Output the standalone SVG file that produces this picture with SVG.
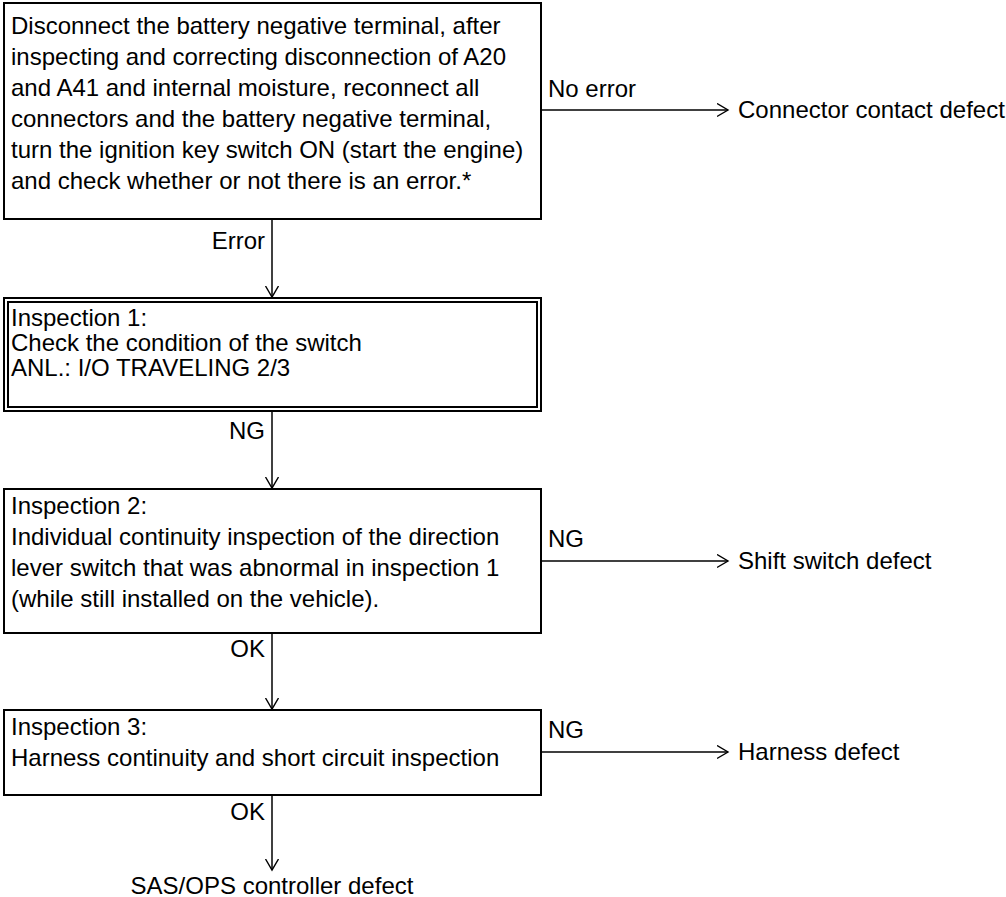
<svg xmlns="http://www.w3.org/2000/svg" width="1006" height="897" viewBox="0 0 1006 897">
  <style>
    .box { fill: #ffffff; stroke: #000000; stroke-width: 2; }
    .wire { fill: none; stroke: #000000; stroke-width: 1.5; }
    text { font-family: "Liberation Sans", Arial, sans-serif; font-size: 24px; fill: #000000; }
    .end { text-anchor: end; }
    .mid { text-anchor: middle; }
  </style>
  <defs>
    <marker id="open-arrow" markerUnits="userSpaceOnUse" markerWidth="14" markerHeight="16" refX="11" refY="7" orient="auto">
      <path d="M0,0.5 L11,7 L0,13.5" fill="none" stroke="#000000" stroke-width="1.4"/>
    </marker>
  </defs>

  <rect width="1006" height="897" fill="#ffffff"/>

  <!-- connectors -->
  <g id="connectors">
    <line class="wire" x1="272" y1="219" x2="272" y2="297" marker-end="url(#open-arrow)"/>
    <text class="end" x="265" y="249">Error</text>

    <line class="wire" x1="541" y1="110" x2="728" y2="110" marker-end="url(#open-arrow)"/>
    <text x="548" y="97">No error</text>

    <line class="wire" x1="272" y1="411" x2="272" y2="488" marker-end="url(#open-arrow)"/>
    <text class="end" x="265" y="439">NG</text>

    <line class="wire" x1="541" y1="561" x2="728" y2="561" marker-end="url(#open-arrow)"/>
    <text x="548" y="547">NG</text>

    <line class="wire" x1="272" y1="633" x2="272" y2="709" marker-end="url(#open-arrow)"/>
    <text class="end" x="265" y="657">OK</text>

    <line class="wire" x1="541" y1="752" x2="728" y2="752" marker-end="url(#open-arrow)"/>
    <text x="548" y="738">NG</text>

    <line class="wire" x1="272" y1="795" x2="272" y2="870" marker-end="url(#open-arrow)"/>
    <text class="end" x="265" y="820">OK</text>
  </g>

  <!-- start: error check -->
  <g id="node-check">
    <rect class="box" x="4" y="3" width="537" height="216"/>
    <text x="11" y="34">Disconnect the battery negative terminal, after</text>
    <text x="11" y="65">inspecting and correcting disconnection of A20</text>
    <text x="11" y="96">and A41 and internal moisture, reconnect all</text>
    <text x="11" y="127">connectors and the battery negative terminal,</text>
    <text x="11" y="158">turn the ignition key switch ON (start the engine)</text>
    <text x="11" y="189">and check whether or not there is an error.*</text>
  </g>

  <g id="result-connector">
    <text x="738" y="118">Connector contact defect</text>
  </g>

  <!-- inspection 1 (double frame) -->
  <g id="node-inspection1">
    <rect class="box" x="4" y="298" width="537" height="113"/>
    <rect class="box" x="8" y="302" width="529" height="105"/>
    <text x="11" y="326">Inspection 1:</text>
    <text x="11" y="351">Check the condition of the switch</text>
    <text x="11" y="376">ANL.: I/O TRAVELING 2/3</text>
  </g>

  <!-- inspection 2 -->
  <g id="node-inspection2">
    <rect class="box" x="4" y="489" width="537" height="144"/>
    <text x="11" y="514">Inspection 2:</text>
    <text x="11" y="545">Individual continuity inspection of the direction</text>
    <text x="11" y="576">lever switch that was abnormal in inspection 1</text>
    <text x="11" y="607">(while still installed on the vehicle).</text>
  </g>

  <g id="result-shift">
    <text x="738" y="569">Shift switch defect</text>
  </g>

  <!-- inspection 3 -->
  <g id="node-inspection3">
    <rect class="box" x="4" y="710" width="537" height="85"/>
    <text x="11" y="735">Inspection 3:</text>
    <text x="11" y="766">Harness continuity and short circuit inspection</text>
  </g>

  <g id="result-harness">
    <text x="738" y="760">Harness defect</text>
  </g>

  <g id="result-controller">
    <text class="mid" x="272" y="894">SAS/OPS controller defect</text>
  </g>
</svg>
